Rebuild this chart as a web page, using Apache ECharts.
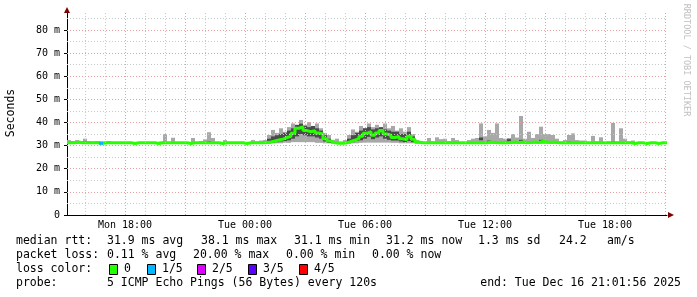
<!DOCTYPE html>
<html><head><meta charset="utf-8">
<script src="https://cdn.jsdelivr.net/npm/echarts@6/dist/echarts.min.js"></script>
<style>html,body{margin:0;padding:0;background:#fff}#c{width:697px;height:297px}</style>
</head><body><div id="c"></div>
<script>
// time axis in hours since Mon 00:00; one bin = 12 minutes
const startHour = 15.1;
const stepHours = 0.2;
const endHour = 45.1;
const tickHours = [18, 24, 30, 36, 42];
const tickLabels = ['Mon 18:00', 'Tue 00:00', 'Tue 06:00', 'Tue 12:00', 'Tue 18:00'];
const yTickValues = [0, 10, 20, 30, 40, 50, 60, 70, 80];

// median rtt (ms)
const median = [
31.2,31.2,31.6,31.2,31.2,31.2,31.2,31.2,31.0,31.2,
31.2,31.2,31.2,31.2,31.2,31.2,30.9,31.2,31.2,31.2,
31.2,31.2,30.9,31.2,31.2,31.2,31.2,31.2,31.2,31.2,
30.9,31.2,31.2,31.2,31.2,31.2,31.2,31.2,30.9,31.2,
31.2,31.2,31.2,31.2,30.9,31.2,31.2,31.2,31.2,31.4,
31.6,32.0,32.4,32.8,33.5,34.0,35.3,37.5,38.1,36.5,
36.0,36.5,35.5,35.0,33.0,32.0,31.2,31.0,31.0,31.2,
31.8,32.4,33.0,34.0,35.3,36.0,34.5,35.5,36.5,35.0,
34.5,33.5,34.0,33.0,32.5,34.0,32.8,31.6,31.2,31.2,
31.2,31.2,31.2,31.2,31.2,31.2,31.2,31.2,31.2,31.2,
31.2,31.2,31.2,31.4,31.2,31.6,31.4,31.2,31.4,31.2,
31.4,31.6,31.4,31.6,31.2,31.4,31.6,31.4,31.8,31.6,
31.4,31.6,31.2,31.2,31.2,31.2,31.2,31.2,31.2,31.2,
31.2,31.2,31.2,31.2,31.2,31.2,31.2,31.2,31.2,31.2,
31.2,30.9,31.2,31.2,30.9,31.2,31.2,30.9,31.2,31.2
];
// smoke: lowest ping
const minV = [
31.0,31.0,31.0,31.0,31.0,31.0,31.0,31.0,31.0,31.0,
31.0,31.0,31.0,31.0,31.0,31.0,31.0,31.0,31.0,31.0,
31.0,31.0,31.0,31.0,31.0,31.0,31.0,31.0,31.0,31.0,
31.0,31.0,31.0,31.0,31.0,31.0,31.0,31.0,31.0,31.0,
31.0,31.0,31.0,31.0,31.0,31.0,31.0,31.0,31.0,31.0,
31.0,31.0,31.0,31.0,31.2,31.2,31.5,31.5,31.5,31.5,
31.5,31.5,31.2,31.2,31.0,31.0,31.0,31.0,31.0,31.0,
31.0,31.0,31.0,31.2,31.3,31.3,31.3,31.3,31.3,31.3,
31.3,31.2,31.2,31.0,31.0,31.0,31.0,31.0,31.0,31.0,
31.0,31.0,31.0,31.0,31.0,31.0,31.0,31.0,31.0,31.0,
31.0,31.0,31.0,31.0,31.0,31.0,31.0,31.0,31.0,31.0,
31.0,31.0,31.0,31.0,31.0,31.0,31.0,31.0,31.0,31.0,
31.0,31.0,31.0,31.0,31.0,31.0,31.0,31.0,31.0,31.0,
31.0,31.0,31.0,31.0,31.0,31.0,31.0,31.0,31.0,31.0,
31.0,31.0,31.0,31.0,31.0,31.0,31.0,31.0,31.0,31.0
];
// smoke: inner (dark) band lower edge
const darkLo = [
31.0,31.0,31.0,31.0,31.0,31.0,31.0,31.0,31.0,31.0,
31.0,31.0,31.0,31.0,31.0,31.0,31.0,31.0,31.0,31.0,
31.0,31.0,31.0,31.0,31.0,31.0,31.0,31.0,31.0,31.0,
31.0,31.0,31.0,31.0,31.0,31.0,31.0,31.0,31.0,31.0,
31.0,31.0,31.0,31.0,31.0,31.0,31.0,31.0,31.0,31.0,
31.0,31.2,31.5,31.8,32.0,32.3,33.0,34.0,35.0,34.5,
34.0,34.0,33.5,33.0,31.8,31.2,31.0,31.0,31.0,31.0,
31.0,31.5,32.0,32.3,33.0,33.8,32.8,33.5,34.0,33.0,
32.5,32.2,32.2,31.8,31.5,32.0,31.5,31.0,31.0,31.0,
31.0,31.0,31.0,31.0,31.0,31.0,31.0,31.0,31.0,31.0,
31.0,31.0,31.0,32.3,31.0,31.0,31.0,31.0,31.0,31.0,
31.0,31.0,31.0,31.0,31.0,31.0,31.0,31.0,31.0,31.0,
31.0,31.0,31.0,31.0,31.0,31.0,31.0,31.0,31.0,31.0,
31.0,31.0,31.0,31.0,31.0,31.0,31.0,31.0,31.0,31.0,
31.0,31.0,31.0,31.0,31.0,31.0,31.0,31.0,31.0,31.0
];
// smoke: inner (dark) band upper edge
const darkHi = [
31.4,31.4,31.4,31.4,31.8,31.4,31.4,31.4,31.4,31.4,
31.4,31.4,31.4,31.4,31.4,31.4,31.4,31.4,31.4,31.4,
31.4,31.4,31.4,31.4,31.4,31.4,31.4,31.4,31.4,31.4,
31.4,31.4,31.4,31.4,31.4,32.0,31.4,31.4,31.4,31.4,
31.4,31.4,31.4,31.4,31.4,31.4,31.4,31.4,31.4,31.4,
33.0,34.0,34.5,35.0,35.5,36.5,37.5,39.0,39.5,38.5,
38.0,38.5,37.5,36.5,34.5,33.0,31.4,31.4,31.4,31.4,
33.0,34.5,35.5,36.5,37.5,38.0,37.0,37.5,38.0,37.0,
36.5,36.0,36.0,35.0,35.0,36.0,34.0,31.4,31.4,31.4,
31.4,31.4,31.4,31.4,31.4,31.4,31.4,31.4,31.4,31.4,
31.4,31.4,31.4,33.5,31.4,32.2,31.4,31.4,31.4,31.8,
32.8,31.4,31.4,32.5,31.4,31.4,31.4,31.4,32.5,32.0,
31.4,31.4,31.4,31.4,31.4,31.8,31.4,31.4,31.4,31.4,
31.4,31.4,31.4,31.4,31.4,31.4,31.8,31.4,31.4,31.4,
31.4,31.4,31.4,31.4,31.4,31.4,31.4,31.4,31.4,31.4
];
// smoke: highest ping
const maxV = [
32.4,32.0,32.4,32.0,33.0,32.0,31.8,32.0,31.8,31.8,
32.0,31.6,31.6,31.6,31.6,31.6,31.6,31.6,31.6,31.6,
31.6,31.6,31.6,31.8,35.0,31.6,33.4,31.6,31.6,31.6,
31.6,33.3,31.6,32.0,32.7,35.8,33.3,31.6,31.6,32.4,
31.6,31.6,31.6,31.6,31.6,31.6,32.4,31.8,32.2,32.4,
34.6,36.8,35.5,37.5,36.0,38.0,39.6,38.5,41.1,39.0,
40.2,38.0,39.6,37.5,35.5,34.6,32.4,33.0,31.8,32.4,
34.6,37.0,36.0,38.5,37.5,39.6,38.0,39.0,37.5,39.6,
37.5,38.5,36.5,37.5,36.0,38.0,35.0,32.4,32.0,31.6,
33.3,31.8,33.6,32.8,33.0,32.0,33.3,32.4,31.6,31.6,
32.4,33.0,33.3,39.6,34.0,36.8,35.5,39.6,33.3,33.0,
33.3,35.0,33.5,42.8,33.0,36.0,33.3,35.0,38.2,35.0,
35.0,34.6,33.0,31.8,32.4,34.6,35.3,32.4,32.2,32.2,
31.6,34.2,31.8,33.6,31.6,31.8,39.8,31.8,37.5,33.0,
31.8,32.2,31.6,31.6,31.6,31.6,31.6,31.6,31.6,31.6
];
// packet loss (number of lost pings out of 5) for bins with loss
const lossBins = [8];
const lossLevel = [1];
const lossColors = ['#26ff00', '#00b8ff', '#dd00ff', '#5e00ff', '#ff0000'];
const lossLabels = ['0', '1/5', '2/5', '3/5', '4/5'];

const FONT = '"DejaVu Sans Mono", monospace';
const chart = echarts.init(document.getElementById('c'), null, {renderer: 'canvas'});

const smokeData = median.map((m, i) => [startHour + i * stepHours, minV[i], darkLo[i], darkHi[i], maxV[i]]);
const medData = median.map((m, i) => [startHour + i * stepHours, m]);
medData.push([endHour, median[median.length - 1]]);
const lossData = lossBins.map((b, k) => [startHour + b * stepHours, median[b], lossLevel[k]]);

const vMinor = [], vMajor = [];
for (let h = 16; h <= 45; h++) (h % 3 === 0 ? vMajor : vMinor).push({xAxis: h});
const hMinor = [], hMajor = [];
for (let v = 5; v <= 85; v += 5) (v % 10 === 0 ? hMajor : hMinor).push({yAxis: v});

function gridSeries(data, color) {
  return {
    type: 'line', data: [], silent: true, z: 1,
    markLine: {silent: true, symbol: 'none', label: {show: false}, animation: false,
      lineStyle: {color: color, width: 1, type: [1, 2]}, data: data}
  };
}

const legendRows = [
  [[16, 'median rtt:'], [107, '31.9 ms avg'], [201, '38.1 ms max'], [294, '31.1 ms min'], [386, '31.2 ms now'], [478, '1.3 ms sd'], [559, '24.2'], [607, 'am/s']],
  [[16, 'packet loss:'], [107, '0.11 % avg'], [193, '20.00 % max'], [286, '0.00 % min'], [372, '0.00 % now']],
  [[16, 'loss color:']],
  [[16, 'probe:'], [107, '5 ICMP Echo Pings (56 Bytes) every 120s']]
];
const rowY = [241, 255, 269, 283];
const graphics = [];
legendRows.forEach((row, r) => row.forEach(([x, t]) => graphics.push({
  type: 'text', x: x, y: rowY[r], style: {text: t, font: '11.5px ' + FONT, fill: '#000', textVerticalAlign: 'middle'}
})));
graphics.push({type: 'text', x: 681, y: rowY[3], style: {text: 'end: Tue Dec 16 21:01:56 2025', font: '11.5px ' + FONT, fill: '#000', textAlign: 'right', textVerticalAlign: 'middle'}});
const boxX = [109, 147, 197, 248, 299];
lossLabels.forEach((lab, k) => {
  graphics.push({type: 'rect', shape: {x: boxX[k] + 0.5, y: 264.5, width: 8, height: 10}, style: {fill: lossColors[k], stroke: '#000', lineWidth: 1}});
  graphics.push({type: 'text', x: boxX[k] + 15, y: rowY[2], style: {text: lab, font: '11.5px ' + FONT, fill: '#000', textVerticalAlign: 'middle'}});
});
graphics.push({type: 'text', x: 11, y: 113, rotation: Math.PI / 2, style: {text: 'Seconds', font: '11.5px ' + FONT, fill: '#000', textAlign: 'center', textVerticalAlign: 'middle'}});
graphics.push({type: 'text', x: 686, y: 60, rotation: -Math.PI / 2, style: {text: 'RRDTOOL / TOBI OETIKER', font: '8.5px ' + FONT, fill: '#c0c0c0', textAlign: 'center', textVerticalAlign: 'middle'}});
graphics.push({type: 'polygon', shape: {points: [[64, 13], [70, 13], [67, 7]]}, style: {fill: '#800000'}});
graphics.push({type: 'polygon', shape: {points: [[668, 212], [668, 218], [674, 215]]}, style: {fill: '#800000'}});

chart.setOption({
  animation: false,
  backgroundColor: '#fff',
  grid: {left: 67, right: 30, top: 13, bottom: 82},
  xAxis: {
    type: 'value', min: startHour, max: endHour,
    axisLine: {show: true, lineStyle: {color: '#000', width: 1}},
    axisTick: {show: false},
    splitLine: {show: false},
    axisLabel: {customValues: tickHours, margin: 5, color: '#000', fontFamily: FONT, fontSize: 10,
      formatter: v => tickLabels[tickHours.indexOf(Math.round(v))] || ''}
  },
  yAxis: {
    type: 'value', min: 0, max: 87.35,
    axisLine: {show: true, lineStyle: {color: '#000', width: 1}},
    axisTick: {show: true, customValues: yTickValues, length: 3, lineStyle: {color: '#000'}},
    splitLine: {show: false},
    axisLabel: {customValues: yTickValues, margin: 7, color: '#000', fontFamily: FONT, fontSize: 10,
      formatter: v => (v === 0 ? '0' : v + ' m')}
  },
  series: [
    gridSeries(vMinor, '#c8c8c8'),
    gridSeries(hMinor, '#c8c8c8'),
    gridSeries(vMajor, '#e6a0a0'),
    gridSeries(hMajor, '#e6a0a0'),
    {
      type: 'custom', z: 3, silent: true, data: smokeData,
      renderItem: function (params, api) {
        const x0 = api.value(0), x1 = x0 + stepHours;
        const a = api.coord([x0, api.value(4)]), b = api.coord([x1, api.value(1)]);
        const c = api.coord([x0, api.value(3)]), d = api.coord([x1, api.value(2)]);
        return {type: 'group', children: [
          {type: 'rect', shape: {x: a[0], y: a[1], width: b[0] - a[0], height: b[1] - a[1]}, style: {fill: '#a8a8a8'}},
          {type: 'rect', shape: {x: c[0], y: c[1], width: d[0] - c[0], height: d[1] - c[1]}, style: {fill: '#4a4a4a'}}
        ]};
      }
    },
    {
      type: 'line', z: 4, silent: true, data: medData, step: 'end', symbol: 'none',
      lineStyle: {color: lossColors[0], width: 3}
    },
    {
      type: 'custom', z: 5, silent: true, data: lossData,
      renderItem: function (params, api) {
        const x0 = api.value(0);
        const a = api.coord([x0, api.value(1)]), b = api.coord([x0 + stepHours, api.value(1)]);
        return {type: 'rect', shape: {x: a[0], y: a[1] - 1.5, width: b[0] - a[0], height: 3}, style: {fill: lossColors[api.value(2)]}};
      }
    }
  ],
  graphic: graphics
});
</script></body></html>
